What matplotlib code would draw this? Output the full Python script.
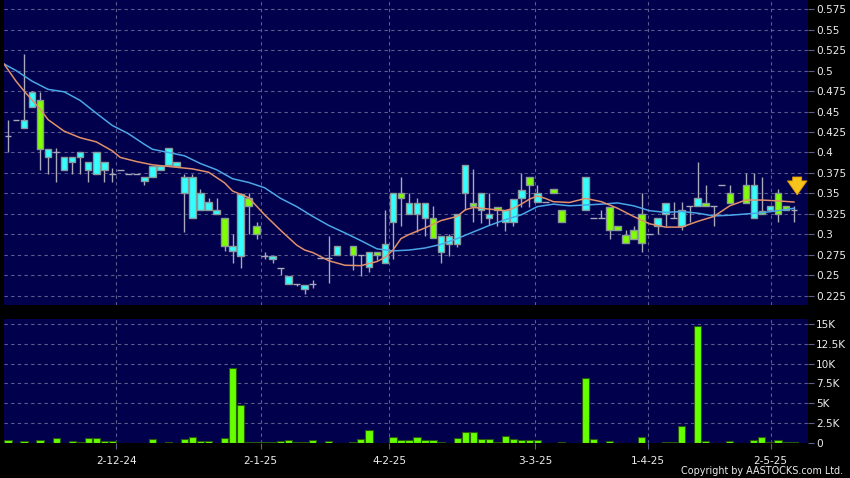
import numpy as np
import matplotlib
matplotlib.use("Agg")
import matplotlib.pyplot as plt

# daily candles (index = trading day on the chart), None = no candle drawn
opens = [0.42, 0.44, 0.43, 0.455, 0.464, 0.395, 0.40, 0.379, 0.389, 0.395,
         0.379, 0.374, 0.379, 0.374, 0.379, 0.374, 0.374, 0.365, 0.37, 0.379,
         0.385, 0.384, 0.35, 0.32, 0.33, 0.33, 0.325, 0.32, 0.28, 0.274,
         0.344, 0.31, 0.274, 0.27, 0.259, 0.24, 0.24, 0.234, 0.24, 0.271,
         0.271, 0.275, None, 0.286, 0.275, 0.26, 0.279, 0.265, 0.315, 0.35,
         0.325, 0.325, 0.32, 0.32, 0.279, 0.289, 0.289, 0.35, 0.339, 0.33,
         0.32, 0.334, 0.315, 0.315, 0.344, 0.37, 0.34, 0.34, 0.355, 0.33,
         None, None, 0.33, 0.32, 0.32, 0.334, 0.31, 0.299, 0.305, 0.325,
         0.30, 0.31, 0.325, 0.32, 0.31, 0.335, 0.335, 0.339, 0.335, 0.36,
         0.35, None, 0.36, 0.32, 0.329, 0.33, 0.35, 0.335, 0.33]
highs = [0.44, 0.44, 0.52, 0.475, 0.474, 0.404, 0.405, 0.395, 0.395, 0.40,
         0.389, 0.40, 0.389, 0.381, 0.379, 0.374, 0.374, 0.37, 0.384, 0.384,
         0.405, 0.389, 0.374, 0.374, 0.355, 0.345, 0.344, 0.32, 0.30, 0.35,
         0.35, 0.315, 0.279, 0.274, 0.259, 0.249, 0.24, 0.239, 0.245, 0.271,
         0.298, 0.286, None, 0.286, 0.275, 0.279, 0.279, 0.33, 0.35, 0.37,
         0.35, 0.344, 0.339, 0.335, 0.298, 0.30, 0.325, 0.385, 0.38, 0.35,
         0.35, 0.334, 0.33, 0.343, 0.375, 0.37, 0.36, 0.34, 0.355, 0.33,
         None, None, 0.37, 0.32, 0.33, 0.334, 0.31, 0.305, 0.31, 0.35,
         0.30, 0.32, 0.339, 0.34, 0.34, 0.335, 0.389, 0.36, 0.335, 0.36,
         0.36, None, 0.375, 0.375, 0.37, 0.335, 0.355, 0.335, 0.335]
lows = [0.40, 0.44, 0.43, 0.455, 0.379, 0.374, 0.364, 0.379, 0.374, 0.374,
        0.364, 0.374, 0.364, 0.364, 0.379, 0.374, 0.374, 0.36, 0.37, 0.379,
        0.385, 0.384, 0.303, 0.32, 0.33, 0.33, 0.325, 0.28, 0.265, 0.259,
        0.30, 0.294, 0.27, 0.265, 0.25, 0.24, 0.237, 0.228, 0.235, 0.271,
        0.241, 0.275, None, 0.257, 0.249, 0.254, 0.269, 0.265, 0.27, 0.31,
        0.325, 0.303, 0.298, 0.296, 0.265, 0.274, 0.285, 0.33, 0.315, 0.314,
        0.312, 0.31, 0.304, 0.31, 0.334, 0.334, 0.34, 0.34, 0.35, 0.315,
        None, None, 0.33, 0.32, 0.32, 0.294, 0.305, 0.29, 0.294, 0.279,
        0.30, 0.30, 0.31, 0.32, 0.305, 0.315, 0.335, 0.335, 0.31, 0.36,
        0.339, None, 0.339, 0.32, 0.325, 0.33, 0.315, 0.33, 0.315]
closes = [0.42, 0.44, 0.44, 0.474, 0.404, 0.404, 0.40, 0.395, 0.395, 0.40,
          0.389, 0.40, 0.389, 0.374, 0.379, 0.374, 0.374, 0.37, 0.384, 0.384,
          0.405, 0.389, 0.37, 0.37, 0.35, 0.34, 0.33, 0.286, 0.286, 0.349,
          0.335, 0.30, 0.274, 0.274, 0.259, 0.249, 0.24, 0.239, 0.24, 0.271,
          0.271, 0.286, None, 0.275, 0.275, 0.279, 0.275, 0.289, 0.35, 0.344,
          0.339, 0.339, 0.339, 0.296, 0.298, 0.298, 0.325, 0.385, 0.335, 0.35,
          0.325, 0.33, 0.33, 0.343, 0.354, 0.36, 0.35, 0.34, 0.35, 0.315,
          None, None, 0.37, 0.32, 0.32, 0.305, 0.305, 0.29, 0.294, 0.29,
          0.30, 0.32, 0.339, 0.32, 0.33, 0.335, 0.344, 0.335, 0.335, 0.36,
          0.339, None, 0.339, 0.36, 0.325, 0.335, 0.325, 0.33, 0.33]
volumes = [417, 0, 250, 0, 375, 0, 667, 0, 292, 125,
           667, 667, 208, 250, 0, 0, 0, 40, 542, 0,
           167, 40, 542, 750, 292, 292, 0, 667, 9500, 4792,
           80, 125, 125, 80, 292, 333, 125, 167, 417, 0,
           250, 40, 0, 80, 542, 1667, 40, 0, 708, 417,
           375, 708, 417, 417, 125, 0, 667, 1333, 1333, 500,
           500, 167, 917, 500, 375, 375, 375, 0, 0, 125,
           0, 0, 8250, 542, 0, 250, 0, 0, 0, 750,
           0, 40, 80, 80, 2167, 0, 14750, 292, 0, 0,
           292, 0, 40, 417, 750, 125, 375, 125, 125]

# moving averages (day index, value)
ma10_idx = [-0.5, 1, 2, 4, 5, 7, 9, 11, 13, 14, 16, 18, 20, 23, 25, 27, 28, 29, 30, 32,
            34, 36, 37, 38, 40, 42, 44, 46, 47, 48, 49, 50, 52, 54, 56, 57, 58, 60, 62, 63,
            64, 65, 66, 67, 68, 70, 72, 74, 76, 78, 80, 82, 84, 86, 88, 90, 92, 94, 96, 98]
ma10 = [0.508, 0.487, 0.475, 0.453, 0.44, 0.426, 0.418, 0.413, 0.402, 0.394,
        0.389, 0.385, 0.383, 0.380, 0.376, 0.363, 0.353, 0.349, 0.345, 0.324,
        0.305, 0.287, 0.281, 0.278, 0.268, 0.2625, 0.262, 0.267, 0.272, 0.281,
        0.295, 0.300, 0.308, 0.317, 0.322, 0.330, 0.333, 0.331, 0.329, 0.332,
        0.337, 0.343, 0.347, 0.344, 0.340, 0.339, 0.344, 0.340, 0.332, 0.322,
        0.313, 0.309, 0.309, 0.316, 0.322, 0.335, 0.342, 0.342, 0.341, 0.3396]
ma20_idx = [-0.5, 1, 3, 5, 7, 9, 11, 13, 15, 17, 18, 20, 22, 24, 26, 28, 30, 32, 34, 36,
            38, 40, 42, 44, 46, 48, 50, 52, 54, 56, 58, 60, 62, 64, 66, 68, 70, 72, 74, 76,
            78, 80, 82, 84, 86, 88, 90, 92, 94, 96, 98]
ma20 = [0.508, 0.500, 0.487, 0.477, 0.474, 0.4635, 0.448, 0.433, 0.423, 0.41,
        0.404, 0.400, 0.396, 0.3865, 0.379, 0.368, 0.3635, 0.357, 0.344, 0.334,
        0.322, 0.311, 0.302, 0.2925, 0.2825, 0.280, 0.281, 0.2835, 0.288, 0.295,
        0.303, 0.311, 0.318, 0.324, 0.334, 0.337, 0.335, 0.336, 0.337, 0.3385,
        0.335, 0.329, 0.327, 0.328, 0.326, 0.3226, 0.3235, 0.325, 0.3265, 0.329, 0.332]

date_pos = [13.5, 31.5, 47.5, 65.7, 79.8, 95.1]
date_labels = ["2-12-24", "2-1-25", "4-2-25", "3-3-25", "1-4-25", "2-5-25"]
price_ticks = [0.225, 0.25, 0.275, 0.3, 0.325, 0.35, 0.375, 0.4, 0.425, 0.45,
               0.475, 0.5, 0.525, 0.55, 0.575]
vol_ticks = [0, 2500, 5000, 7500, 10000, 12500, 15000]
vol_labels = ["0", "2.5K", "5K", "7.5K", "10K", "12.5K", "15K"]

BG = "#000000"
PANEL = "#00004c"
GRID = "#5c5c8e"
UP = "#33ffff"
DOWN = "#80ff00"
EDGE = "#8a9a9a"
WICK = "#a8a8b8"
TXT = "#ececec"

fig = plt.figure(figsize=(8.5, 4.78), dpi=100, facecolor=BG)
ax = fig.add_axes([4 / 850, 173 / 478, 804 / 850, 305 / 478])
axv = fig.add_axes([4 / 850, 35 / 478, 804 / 850, 124 / 478])

n = len(closes)
idx = np.arange(n)
dash = (0, (3, 3))

for a in (ax, axv):
    a.set_facecolor(PANEL)
    for s in a.spines.values():
        s.set_visible(False)
    a.set_xlim(-0.5, 99.75)
    a.yaxis.tick_right()
    a.tick_params(axis="y", colors=GRID, labelcolor=TXT, labelsize=7.6,
                  length=4, width=0.8, pad=2)
    for p in date_pos:
        a.axvline(p, color=GRID, lw=0.8, ls=dash, zorder=0)

# price panel
ax.set_ylim(0.214, 0.586)
ax.set_yticks(price_ticks)
ax.set_yticklabels([f"{t:g}" for t in price_ticks])
ax.set_xticks([])
for t in price_ticks:
    ax.axhline(t, color=GRID, lw=0.8, ls=dash, zorder=0)

for i in idx:
    o, h, l, c = opens[i], highs[i], lows[i], closes[i]
    if o is None:
        continue
    ax.vlines(i, l, h, color=WICK, lw=1, zorder=2)
    if abs(c - o) < 1e-9:
        ax.hlines(o, i - 0.42, i + 0.42, color=WICK, lw=1, zorder=3)
    else:
        col = UP if c > o else DOWN
        ax.bar(i, abs(c - o), bottom=min(o, c), width=0.82, color=col,
               edgecolor=EDGE, linewidth=1, zorder=3)

ax.plot(ma20_idx, ma20, color="#4aa6e6", lw=1.1, zorder=4)
ax.plot(ma10_idx, ma10, color="#e0906a", lw=1.1, zorder=5)

ax.annotate("", xy=(98.4, 0.345), xytext=(98.4, 0.3735),
            arrowprops=dict(arrowstyle="simple,head_width=1.4,head_length=1.0,tail_width=0.65",
                            fc="#f7c41c", ec="#e29a00", lw=0.6), zorder=6)

# volume panel
axv.set_ylim(0, 15630)
axv.set_yticks(vol_ticks)
axv.set_yticklabels(vol_labels)
for t in vol_ticks[1:]:
    axv.axhline(t, color=GRID, lw=0.8, ls=dash, zorder=0)
axv.bar(idx, volumes, width=0.9, color="#66ff00", edgecolor="#2a5a10",
        linewidth=0.8, zorder=3)
axv.set_xticks(date_pos)
axv.set_xticklabels(date_labels)
axv.tick_params(axis="x", colors=GRID, labelcolor=TXT, labelsize=7.6,
                length=4, width=0.8, pad=5)

fig.text(843 / 850, 1 - 471 / 478, "Copyright by AASTOCKS.com Ltd.", color=TXT,
         fontsize=6.9, ha="right", va="center")

fig.savefig("out.png", dpi=100, facecolor=BG)
